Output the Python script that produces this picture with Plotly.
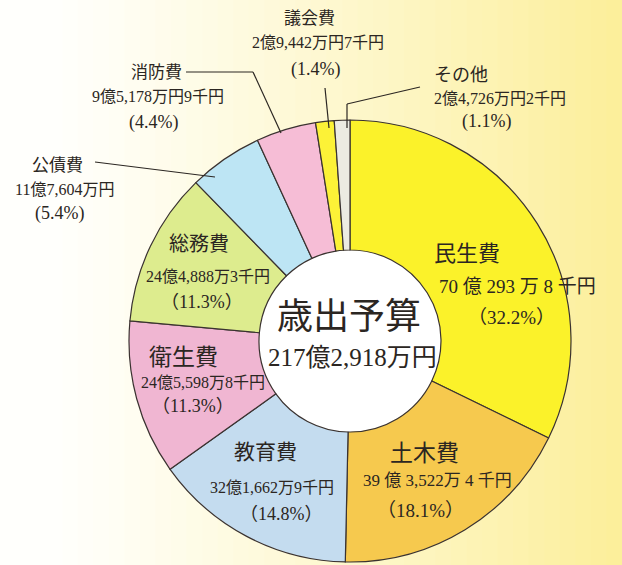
import plotly.graph_objects as go

# ---- data ----
categories = ["民生費", "土木費", "教育費", "衛生費", "総務費", "公債費", "消防費", "議会費", "その他"]
amounts_man_yen = [700293.8, 393522.4, 321662.9, 245598.8, 244888.3, 117604.0, 95178.9, 29442.7, 24726.2]
amount_labels = ["70 億 293 万 8 千円", "39 億 3,522万 4 千円", "32億1,662万9千円", "24億5,598万8千円",
                 "24億4,888万3千円", "11億7,604万円", "9億5,178万円9千円", "2億9,442万円7千円", "2億4,726万円2千円"]
percent_labels = ["32.2%", "18.1%", "14.8%", "11.3%", "11.3%", "5.4%", "4.4%", "1.4%", "1.1%"]
center_title = "歳出予算"
center_total = "217億2,918万円"

# ---- styles ----
colors = ["#FBF22A", "#F6C94E", "#C4DCEF", "#F0B6D2", "#DDEC8E", "#BDE5F4", "#F6BDD6", "#FCF237", "#ECEBE2"]
W, H = 622, 565
cx, cy, R, r_hole = 350, 341, 221, 91
FONT = "Liberation Serif, Noto Sans CJK JP, serif"
TXT = "#2b2622"

fig = go.Figure()
fig.add_trace(go.Pie(
    labels=categories, values=amounts_man_yen, sort=False, direction="clockwise", rotation=0,
    hole=r_hole / R, textinfo="none", hoverinfo="label+percent",
    marker=dict(colors=colors, line=dict(color="#3a3230", width=1.2)),
    domain=dict(x=[(cx - R) / W, (cx + R) / W], y=[(H - cy - R) / H, (H - cy + R) / H]),
    showlegend=False,
))

# background gradient (white left -> pale yellow right)
shapes = []
n = 40
c0 = (255, 255, 252)
c1 = (252, 239, 155)
for i in range(n):
    t = i / (n - 1)
    t2 = max(0.0, (t - 0.08) / 0.92) ** 1.1
    col = tuple(int(round(c0[k] + (c1[k] - c0[k]) * t2)) for k in range(3))
    shapes.append(dict(type="rect", xref="paper", yref="paper", x0=i / n, x1=(i + 1) / n + 0.002,
                       y0=0, y1=1, fillcolor="rgb(%d,%d,%d)" % col, line=dict(width=0), layer="below"))
# white center
shapes.append(dict(type="circle", xref="paper", yref="paper",
                   x0=(cx - r_hole) / W, x1=(cx + r_hole) / W,
                   y0=(H - cy - r_hole) / H, y1=(H - cy + r_hole) / H,
                   fillcolor="white", line=dict(width=0), layer="below"))

# leader lines (pixel coords -> paper)
def P(x, y):
    return x / W, 1 - y / H

leaders = [
    [(95, 162), (215, 177)],                 # 公債費
    [(186, 72), (253, 72), (281, 133)],       # 消防費
    [(325, 88), (329, 128)],                  # 議会費
    [(347, 128), (347, 104), (420, 87)],      # その他
]
for pts in leaders:
    for (xa, ya), (xb, yb) in zip(pts[:-1], pts[1:]):
        x0, y0 = P(xa, ya)
        x1, y1 = P(xb, yb)
        shapes.append(dict(type="line", xref="paper", yref="paper", x0=x0, y0=y0, x1=x1, y1=y1,
                           line=dict(color="#2b2622", width=1.2), layer="above"))

annotations = []
def txt(x, y, s, size, xanchor="center"):
    px, py = P(x, y)
    annotations.append(dict(x=px, y=py, xref="paper", yref="paper", text=s, showarrow=False,
                            xanchor=xanchor, yanchor="middle",
                            font=dict(family=FONT, size=size, color=TXT)))

i = {c: k for k, c in enumerate(categories)}

k = i["民生費"]
txt(432, 253, categories[k], 22, "left")
txt(437, 286, amount_labels[k], 19, "left")
txt(511, 317, "（" + percent_labels[k] + "）", 19)
k = i["土木費"]
txt(424, 453, categories[k], 23)
txt(437, 481, amount_labels[k], 17)
txt(420, 510, "（" + percent_labels[k] + "）", 19)
k = i["教育費"]
txt(265, 452, categories[k], 21)
txt(272, 487, amount_labels[k], 16)
txt(281, 514, "（" + percent_labels[k] + "）", 18)
k = i["衛生費"]
txt(183, 357, categories[k], 23)
txt(203, 382, amount_labels[k], 16)
txt(193, 406, "（" + percent_labels[k] + "）", 18)
k = i["総務費"]
txt(199, 244, categories[k], 20)
txt(208, 276, amount_labels[k], 16)
txt(202, 302, "（" + percent_labels[k] + "）", 18)
k = i["公債費"]
txt(57, 165, categories[k], 17)
txt(64, 189, amount_labels[k], 16)
txt(60, 213, "(" + percent_labels[k] + ")", 18)
k = i["消防費"]
txt(156, 72, categories[k], 17)
txt(158, 97, amount_labels[k], 16)
txt(153, 122, "(" + percent_labels[k] + ")", 18)
k = i["議会費"]
txt(309, 18, categories[k], 17)
txt(318, 42, amount_labels[k], 16)
txt(315, 70, "(" + percent_labels[k] + ")", 18)
k = i["その他"]
txt(432, 75, categories[k], 18, "left")
txt(432, 99, amount_labels[k], 16, "left")
txt(487, 121, "(" + percent_labels[k] + ")", 18)
txt(349, 317, center_title, 36)
txt(352, 357, center_total, 25)

fig.update_layout(
    width=W, height=H, margin=dict(l=0, r=0, t=0, b=0),
    paper_bgcolor="white", plot_bgcolor="white",
    shapes=shapes, annotations=annotations,
)
fig.write_html("out.html", config={"displayModeBar": False},
               post_script="document.body.style.margin='0';document.body.style.padding='0';")
